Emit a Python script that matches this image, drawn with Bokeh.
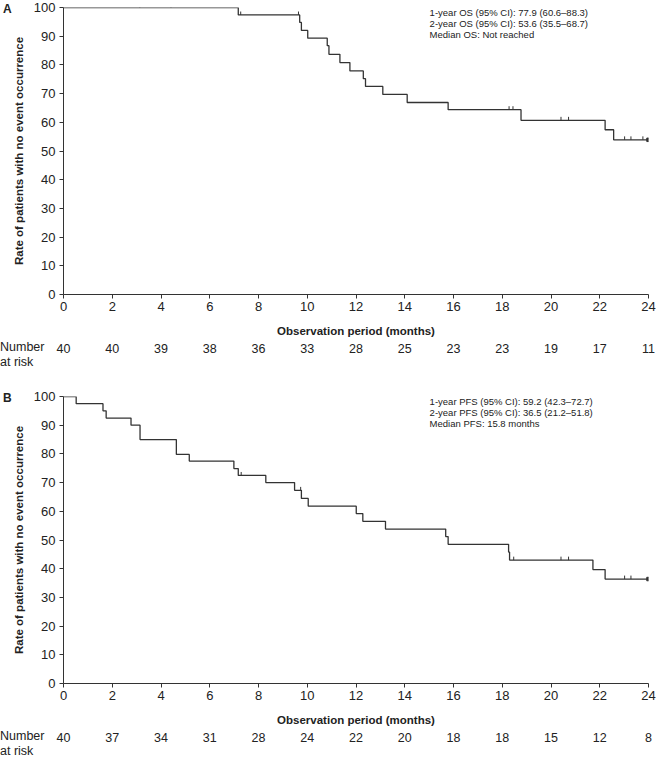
import numpy as np
from bokeh.plotting import figure
from bokeh.models import Range1d, FixedTicker, LinearAxis, Div
from bokeh.layouts import column
from bokeh.embed import file_html
from bokeh.resources import INLINE
from bokeh.core.properties import value

# ---------------- data ----------------
x_ticks = list(range(0, 25, 2))
y_ticks = list(range(0, 101, 10))

# Panel A: overall survival (Kaplan-Meier steps)
os_time = [0, 7.17, 9.69, 9.76, 10.02, 10.82, 10.89, 11.34, 11.75, 12.30, 12.39,
           13.10, 14.10, 15.78, 18.77, 22.22, 22.57, 24.0]
os_surv = [100, 97.4, 94.8, 92.0, 89.3, 86.7, 83.7, 80.8, 77.9, 75.2, 72.5,
           69.7, 66.9, 64.4, 60.7, 57.4, 53.9, 53.9]
os_cens_time = [3.13, 4.41, 7.27, 9.64, 18.28, 18.44, 20.41, 20.72, 23.02, 23.28, 23.77]
os_cens_surv = [100, 100, 97.4, 97.4, 64.4, 64.4, 60.7, 60.7, 53.9, 53.9, 53.9]
os_end_time = [24.0]
os_end_surv = [53.9]
os_risk = [40, 40, 39, 38, 36, 33, 28, 25, 23, 23, 19, 17, 11]
os_notes = ["1-year OS (95% CI): 77.9 (60.6\u201388.3)",
            "2-year OS (95% CI): 53.6 (35.5\u201368.7)",
            "Median OS: Not reached"]

# Panel B: progression-free survival
pfs_time = [0, 0.52, 1.62, 1.75, 2.77, 3.14, 4.63, 5.16, 6.99, 7.17, 8.30, 9.48,
            9.76, 10.04, 12.01, 12.28, 13.21, 15.68, 15.78, 18.26, 18.30, 21.72, 22.22, 24.0]
pfs_surv = [100, 97.5, 95.0, 92.5, 90.0, 85.0, 79.8, 77.5, 74.9, 72.5, 70.0, 67.3,
            64.5, 61.8, 59.2, 56.5, 53.8, 51.2, 48.5, 45.8, 43.0, 39.7, 36.4, 36.4]
pfs_cens_time = [7.29, 9.73, 18.47, 20.41, 20.72, 23.02, 23.28]
pfs_cens_surv = [72.5, 67.3, 43.0, 43.0, 43.0, 36.4, 36.4]
pfs_end_time = [24.0]
pfs_end_surv = [36.4]
pfs_risk = [40, 37, 34, 31, 28, 24, 22, 20, 18, 18, 15, 12, 8]
pfs_notes = ["1-year PFS (95% CI): 59.2 (42.3\u201372.7)",
             "2-year PFS (95% CI): 36.5 (21.2\u201351.8)",
             "Median PFS: 15.8 months"]

risk_labels = ["Number", "at risk"]
x_title = "Observation period (months)"
y_title = "Rate of patients with no event occurrence"

# ---------------- layout / style ----------------
W = 656
LEFT = 63
RIGHT = 8
FH = 287
BOTTOM = 72
TOP_A = 7
TOP_B = 30
RISK_ROW = 54        # px below the frame bottom of the "Number" row
FONT = "Liberation Sans"
INK = "#222222"
CURVE = "#333333"
XMAX = 24.0


def km_panel(top, times, surv, ct, cs, et, es, notes, counts):
    p = figure(width=W, height=top + FH + BOTTOM, output_backend="svg",
               toolbar_location=None, x_range=Range1d(0, XMAX), y_range=Range1d(0, 100),
               min_border_left=LEFT, min_border_right=RIGHT,
               min_border_top=top, min_border_bottom=BOTTOM)
    p.outline_line_color = None
    p.grid.visible = False

    p.xaxis.ticker = FixedTicker(ticks=x_ticks)
    p.yaxis.ticker = FixedTicker(ticks=y_ticks)
    for ax in (p.xaxis, p.yaxis):
        ax.axis_line_color = "#333333"
        ax.axis_line_width = 1
        ax.major_tick_line_color = "#333333"
        ax.major_tick_out = 4
        ax.major_tick_in = 0
        ax.minor_tick_line_color = None
        ax.major_label_text_font = FONT
        ax.major_label_text_font_size = "13px"
        ax.major_label_text_color = INK
        ax.axis_label_text_font = FONT
        ax.axis_label_text_font_size = "11.5px"
        ax.axis_label_text_font_style = "bold"
        ax.axis_label_text_color = INK
    p.xaxis.axis_label = x_title
    p.yaxis.axis_label = y_title
    p.xaxis.major_label_standoff = 3
    p.xaxis.axis_label_standoff = 11
    p.yaxis.major_label_standoff = 4
    p.yaxis.axis_label_standoff = 6

    # number-at-risk row as a label-only axis under the x axis
    risk_ax = LinearAxis(ticker=FixedTicker(ticks=x_ticks),
                         major_label_overrides={t: str(c) for t, c in zip(x_ticks, counts)})
    risk_ax.axis_line_color = None
    risk_ax.major_tick_line_color = None
    risk_ax.minor_tick_line_color = None
    risk_ax.major_tick_out = 0
    risk_ax.major_tick_in = 0
    risk_ax.major_label_standoff = 4
    risk_ax.major_label_text_font = FONT
    risk_ax.major_label_text_font_size = "12.5px"
    risk_ax.major_label_text_color = INK
    p.add_layout(risk_ax, "below")

    p.step(times, surv, mode="after", line_color=CURVE, line_width=1.3)
    p.segment(x0=ct, y0=cs, x1=ct, y1=[s + 1.2 for s in cs],
              line_color=CURVE, line_width=1)
    p.scatter(et, es, marker="square", size=3.5, color=CURVE)

    px_per_unit = FH / 100.0
    offs = [5, 16, 27]
    p.text(x=[15.02] * len(notes), y=[100 - o / px_per_unit for o in offs], text=notes,
           text_font=value(FONT), text_font_size="9.5px", text_color=INK,
           text_baseline="middle", text_align="left")
    return p


def overlay_div(html, left, top, size, bold=False):
    return Div(text=html, width=70, height=34,
               styles={"position": "absolute", "left": f"{left}px", "top": f"{top}px",
                       "font-family": FONT, "font-size": size, "color": INK,
                       "font-weight": "bold" if bold else "normal",
                       "line-height": "15px", "margin": "0", "padding": "0"})


pa = km_panel(TOP_A, os_time, os_surv, os_cens_time, os_cens_surv,
              os_end_time, os_end_surv, os_notes, os_risk)
pb = km_panel(TOP_B, pfs_time, pfs_surv, pfs_cens_time, pfs_cens_surv,
              pfs_end_time, pfs_end_surv, pfs_notes, pfs_risk)

ha = TOP_A + FH + BOTTOM
row_a = TOP_A + FH + RISK_ROW
row_b = ha + TOP_B + FH + RISK_ROW
risk_html = "<br>".join(risk_labels)
divs = [overlay_div("A", 3, 2, "12px", bold=True),
        overlay_div("B", 3, ha + TOP_B - 5, "12px", bold=True),
        overlay_div(risk_html, 0, row_a - 8, "12.5px"),
        overlay_div(risk_html, 0, row_b - 8, "12.5px")]

layout = column(pa, pb, *divs, spacing=0)
open("out.html", "w").write(file_html(layout, INLINE))
